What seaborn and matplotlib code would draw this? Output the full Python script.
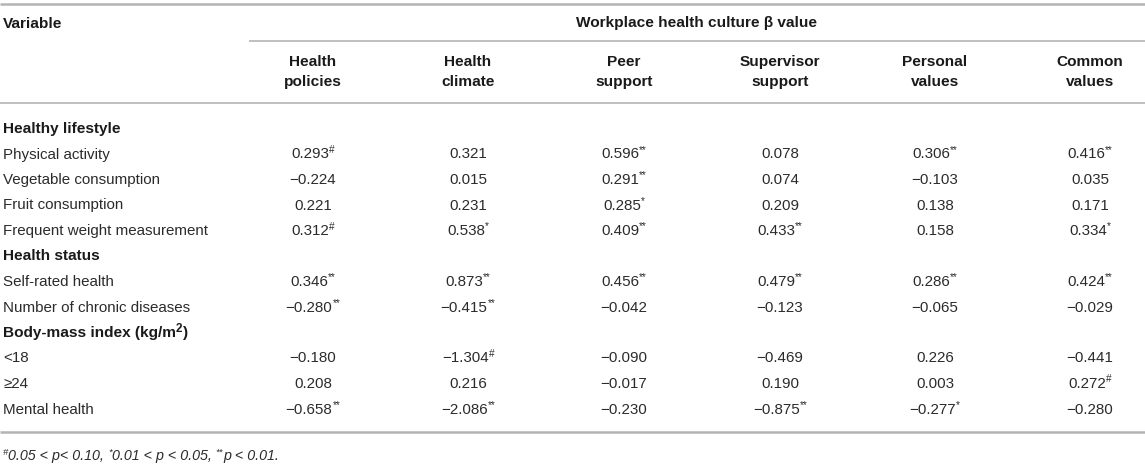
import matplotlib
matplotlib.use('Agg')
import matplotlib.pyplot as plt
import seaborn as sns

# Table content
col_labels = ['Health\npolicies', 'Health\nclimate', 'Peer\nsupport',
              'Supervisor\nsupport', 'Personal\nvalues', 'Common\nvalues']
row_labels = ['Healthy lifestyle', 'Physical activity', 'Vegetable consumption',
              'Fruit consumption', 'Frequent weight measurement', 'Health status',
              'Self-rated health', 'Number of chronic diseases',
              'Body-mass index (kg/m^2)', '<18', '≥24', 'Mental health']
is_group = [True, False, False, False, False, True, False, False, True, False, False, False]
values = [
    None,
    [0.293, 0.321, 0.596, 0.078, 0.306, 0.416],
    [-0.224, 0.015, 0.291, 0.074, -0.103, 0.035],
    [0.221, 0.231, 0.285, 0.209, 0.138, 0.171],
    [0.312, 0.538, 0.409, 0.433, 0.158, 0.334],
    None,
    [0.346, 0.873, 0.456, 0.479, 0.286, 0.424],
    [-0.280, -0.415, -0.042, -0.123, -0.065, -0.029],
    None,
    [-0.180, -1.304, -0.090, -0.469, 0.226, -0.441],
    [0.208, 0.216, -0.017, 0.190, 0.003, 0.272],
    [-0.658, -2.086, -0.230, -0.875, -0.277, -0.280],
]
signif = [
    None,
    ['#', '', '**', '', '**', '**'],
    ['', '', '**', '', '', ''],
    ['', '', '*', '', '', ''],
    ['#', '*', '**', '**', '', '*'],
    None,
    ['**', '**', '**', '**', '**', '**'],
    ['**', '**', '', '', '', ''],
    None,
    ['', '#', '', '', '', ''],
    ['', '', '', '', '', '#'],
    ['**', '**', '', '**', '*', ''],
]
footnote = [('#', True), ('0.05 < p< 0.10, ', False), ('*', True),
            ('0.01 < p < 0.05, ', False), ('**', True), ('p < 0.01.', False)]

sns.set_theme(style='white')
plt.rcParams['font.family'] = ['Liberation Sans', 'DejaVu Sans']

fig = plt.figure(figsize=(11.45, 4.69), dpi=100)
ax = fig.add_axes([0, 0, 1, 1])
ax.set_xlim(0, 1145)
ax.set_ylim(469, 0)
ax.axis('off')
renderer = fig.canvas.get_renderer()

fs = 10.9
fs_b = 11.1
sup_fs = 7.2
txt = '#2b2b2b'
hdr = '#1a1a1a'
rule = '#b4b4b4'
col_x = [313, 468, 624, 780, 935, 1090]
label_x = 3
row_y0, row_dy = 127.5, 25.5


def draw_runs(x, y, runs, ha='left', weight='normal', style='normal', color=txt,
              size=fs, sup_size=sup_fs, sup_rise=5.5):
    # draw text pieces one after another, superscripts smaller and raised
    items = []
    for s, sup in runs:
        t = ax.text(0, y - (sup_rise if sup else 0), s, fontsize=sup_size if sup else size,
                    fontweight=weight, style=style, color=color, ha='left', va='baseline')
        w = t.get_window_extent(renderer).width
        items.append((t, w))
    total = sum(w for _, w in items)
    cur = x - total / 2 if ha == 'center' else x
    for t, w in items:
        t.set_x(cur)
        cur += w


# rules
ax.plot([0, 1145], [4, 4], color=rule, lw=1.8, solid_capstyle='butt')
ax.plot([249, 1145], [41, 41], color=rule, lw=1.2, solid_capstyle='butt')
ax.plot([0, 1145], [103, 103], color=rule, lw=1.2, solid_capstyle='butt')
ax.plot([0, 1145], [432, 432], color=rule, lw=1.8, solid_capstyle='butt')

# header
ax.text(label_x, 24, 'Variable', fontsize=fs_b, fontweight='bold', color=hdr, va='center')
ax.text(697, 23, 'Workplace health culture β value', fontsize=fs_b, fontweight='bold',
        color=hdr, va='center', ha='center')
for x, lab in zip(col_x, col_labels):
    ax.text(x, 72, lab, fontsize=fs_b, fontweight='bold', color=hdr, ha='center',
            va='center', linespacing=1.5)

# body
for i, lab in enumerate(row_labels):
    y = row_y0 + i * row_dy + 5.5
    if is_group[i]:
        if '^' in lab:
            base, sup = lab.split('^')
            draw_runs(label_x, y, [(base, False), (sup[0], True), (sup[1:], False)],
                      weight='bold', color=hdr, size=fs_b, sup_size=8.5, sup_rise=4.5)
        else:
            ax.text(label_x, y, lab, fontsize=fs_b, fontweight='bold', color=hdr, va='baseline')
        continue
    ax.text(label_x, y, lab, fontsize=fs, color=txt, va='baseline')
    for x, v, s in zip(col_x, values[i], signif[i]):
        num = f'{v:.3f}'.replace('-', '\u2212')
        runs = [(num, False)] + ([(s, True)] if s else [])
        draw_runs(x, y, runs, ha='center')

draw_runs(3, 460, footnote, style='italic', size=10.3, sup_size=6.8, sup_rise=5)

fig.savefig('out.png', dpi=100)
